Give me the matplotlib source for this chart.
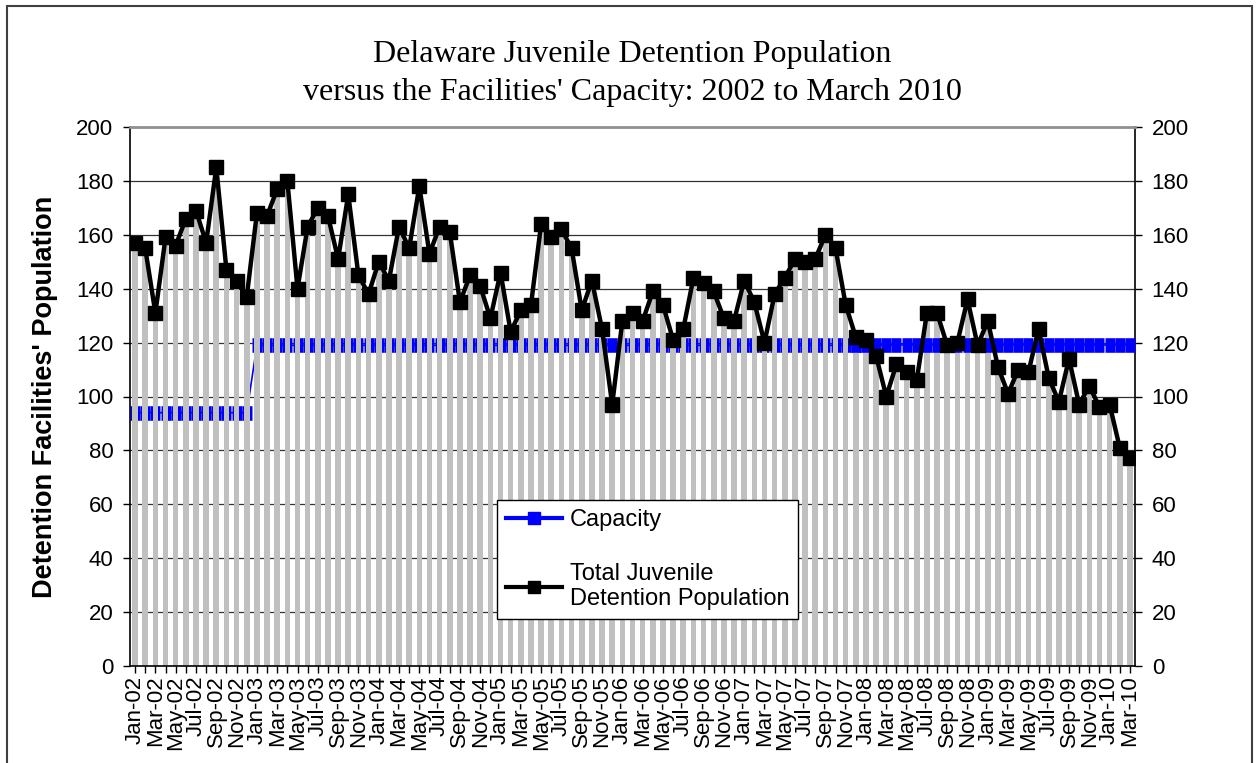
import numpy as np
import matplotlib.pyplot as plt
from matplotlib.lines import Line2D
from matplotlib.patches import Rectangle

plt.rcParams['font.family'] = ['Liberation Sans', 'DejaVu Sans']

# mesi da Jan-02 a Mar-10
mesi = ['Jan', 'Feb', 'Mar', 'Apr', 'May', 'Jun',
        'Jul', 'Aug', 'Sep', 'Oct', 'Nov', 'Dec']
anni = ['02', '03', '04', '05', '06', '07', '08', '09', '10']
etichette = [m + '-' + a for a in anni for m in mesi][:99]

# popolazione totale mensile
popolazione = [157, 155, 131, 159, 156, 166, 169, 157, 185, 147, 143, 137,
               168, 167, 177, 180, 140, 163, 170, 167, 151, 175, 145, 138,
               150, 143, 163, 155, 178, 153, 163, 161, 135, 145, 141, 129,
               146, 124, 132, 134, 164, 159, 162, 155, 132, 143, 125, 97,
               128, 131, 128, 139, 134, 121, 125, 144, 142, 139, 129, 128,
               143, 135, 120, 138, 144, 151, 150, 151, 160, 155, 134, 122,
               121, 115, 100, 112, 109, 106, 131, 131, 119, 120, 136, 119,
               128, 111, 101, 110, 109, 125, 107, 98, 114, 97, 104, 96,
               97, 81, 77]

# capacita' delle strutture
capacita = [94] * 12 + [119] * 87

x = np.arange(len(etichette))

fig = plt.figure(figsize=(12.58, 7.63), dpi=100)
ax = fig.add_axes([130 / 1258, 1 - 666 / 763, 1005 / 1258, 539 / 763])

ax.bar(x, popolazione, width=0.55, color='#C0C0C0', zorder=2)

# la capacita' sta dietro le barre fino a fine 2007, poi davanti
ax.plot(x[:72], capacita[:72], color='blue', lw=1.2, marker='_',
        ms=7.4, mew=10.5, zorder=1)
ax.plot(x[71:], capacita[71:], color='blue', lw=1.2, marker='_',
        ms=7.4, mew=10.5, zorder=3)

ax.plot(x, popolazione, color='black', lw=3.2, marker='s', ms=10.5,
        mec='black', mfc='black', zorder=4)

ax.set_xlim(-0.5, 98.5)
ax.set_ylim(0, 200)
ax.set_yticks(np.arange(0, 201, 20))
ax.set_xticks(x)
ax.set_xticklabels([e if i % 2 == 0 else '' for i, e in enumerate(etichette)],
                   rotation=90, fontsize=16)

ax.set_axisbelow(True)
ax.yaxis.grid(True, color='#333333', lw=0.9)
ax.spines['top'].set_color('#909090')
ax.spines['top'].set_linewidth(2)
for s in ['left', 'right', 'bottom']:
    ax.spines[s].set_linewidth(1.2)

ax.tick_params(axis='y', left=True, right=True, labelleft=True,
               labelright=True, direction='out', length=5, width=1,
               labelsize=16, pad=7)
ax.tick_params(axis='x', direction='out', length=5, width=1, pad=2)

ax.set_ylabel("Detention Facilities' Population", fontsize=19.5,
              fontweight='bold', labelpad=13)

fig.text(632 / 1258, 1 - 40 / 763,
         "Delaware Juvenile Detention Population\n"
         "versus the Facilities' Capacity: 2002 to March 2010",
         ha='center', va='top', family='Liberation Serif', fontsize=23,
         linespacing=1.42)

maniglie = [Line2D([], [], color='blue', lw=3, marker='s', ms=9),
            Line2D([], [], color='black', lw=3, marker='s', ms=9)]
leg = ax.legend(maniglie, ['Capacity', 'Total Juvenile\nDetention Population'],
                loc='upper left', bbox_to_anchor=(0.365, 0.308),
                fontsize=17, frameon=True, fancybox=False, edgecolor='black',
                framealpha=1, borderaxespad=0, handlelength=2.4,
                labelspacing=1.35, borderpad=0.38, handletextpad=0.3)
leg.get_frame().set_linewidth(1)
leg.set_zorder(10)

# cornice esterna
fig.patches.append(Rectangle((7 / 1258, -0.1), 1245 / 1258, 1 - 6 / 763 + 0.1,
                             fill=False, edgecolor='#404040', lw=1.5,
                             transform=fig.transFigure, figure=fig))

fig.savefig('out.png', dpi=100)
